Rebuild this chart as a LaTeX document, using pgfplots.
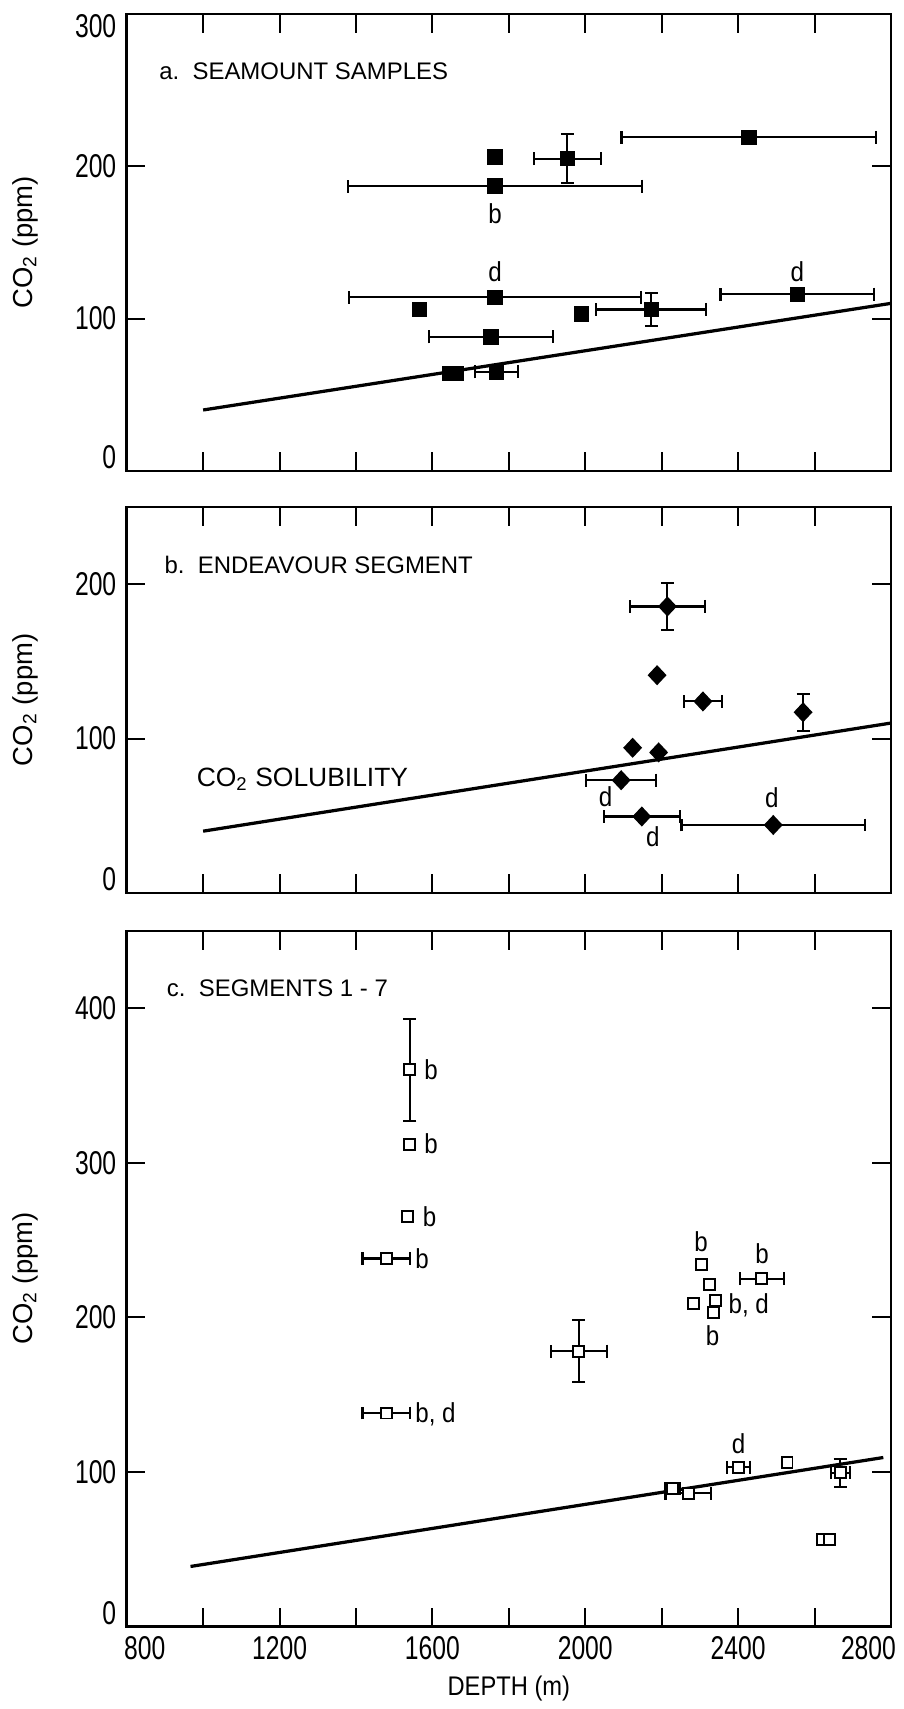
\documentclass[border=0pt]{standalone}
\usepackage{fontspec}
\setmainfont{Liberation Sans}
\newfontfamily\tickfont{Liberation Sans}[FakeStretch=0.75]
\newfontfamily\labfont{Liberation Sans}[FakeStretch=0.88]
\usepackage{pgfplots}
\pgfplotsset{compat=1.18}
\pgfplotsset{
  panel/.style={
    scale only axis, width=306.4pt,
    xmin=800, xmax=2800, ymin=0,
    axis line style={line width=1pt},
    tick align=inside,
    major tick length=7.5pt,
    every tick/.append style={black, line width=0.8pt},
    xtick={800,1000,...,2800},
    xticklabels={},
    yticklabel style={inner sep=0pt, xshift=-4pt, font=\tickfont\fontsize{13.2pt}{14pt}\selectfont},
    xticklabel style={inner sep=0pt, yshift=-4pt, anchor=north, font=\tickfont\fontsize{13.2pt}{14pt}\selectfont},
    ylabel={CO\textsubscript{2} (ppm)},
    ylabel style={at={(axis description cs:-0.133,0.5)}, anchor=center, font=\fontsize{11pt}{13pt}\selectfont},
    clip=false,
  },
  ebx/.style={error bars/.cd, x dir=both, x explicit,
    error bar style={line width=0.85pt},
    error mark options={rotate=90, mark size=2.6pt, line width=0.85pt}},
  eby/.style={error bars/.cd, y dir=both, y explicit,
    error bar style={line width=0.85pt},
    error mark options={rotate=90, mark size=2.6pt, line width=0.85pt}},
  sqa/.style={only marks, black, mark=square*, mark size=2.7pt, mark options={fill=black, draw=black, line width=0.8pt}},
  dia/.style={only marks, black, mark=diamond*, mark size=3.6pt, mark options={fill=black, draw=black, line width=0.6pt, xscale=1.25}},
  sqc/.style={only marks, black, mark=square*, mark size=2.2pt, mark options={fill=white, draw=black, line width=0.8pt}},
  ebar/.style={only marks, black, mark=*, mark size=0.01pt, forget plot},
}
\tikzset{
  anot/.style={font=\labfont\fontsize{11pt}{13pt}\selectfont, inner sep=0pt},
  ttl/.style={font=\fontsize{9.6pt}{11pt}\selectfont, inner sep=0pt, anchor=base west},
}
\begin{document}
\begin{tikzpicture}
\path (0,0) rectangle (362.4pt,-683.6pt);
% ---------------- panel a ----------------
\begin{axis}[panel, at={(50.8pt,-5.6pt)}, anchor=north west, height=183.2pt,
  ymax=300, ytick={0,100,200,300},
  yticklabels={\smash{\raisebox{0.8pt}{0}},100,200,\smash{\raisebox{-9.6pt}{300}}}]
\addplot[line width=1.3pt] coordinates {(1000,40) (2800,110)};
% x errors
\addplot[ebar, ebx] table[x index=0,y index=1,x error index=2] {
1953 205 88
2173 106 144
1764 187 384
2428 219 333
1764 114 382
2555 116 201
1753 88 163
1768 65 57
};
% y errors
\addplot[ebar, eby] table[x index=0,y index=1,y error index=2] {
1953 205 16
2173 106 11
};
% markers
\addplot[sqa] table {
1953 205
2173 106
1764 187
2428 219
1764 114
2555 116
1753 88
1768 65
1764 206
1566 106
1990 103
1645 64
1663 64
};
\node[anot] at (axis cs:1764,169) {b};
\node[anot] at (axis cs:1764,131) {d};
\node[anot] at (axis cs:2555,131) {d};
\node[ttl] at (axis cs:884,257) {a.\ \ SEAMOUNT SAMPLES};
\end{axis}
% ---------------- panel b ----------------
\begin{axis}[panel, at={(50.8pt,-203.2pt)}, anchor=north west, height=154.8pt,
  ymax=250, ytick={0,100,200},
  yticklabels={\smash{\raisebox{0.8pt}{0}},100,200}]
\addplot[line width=1.3pt] coordinates {(1000,40) (2800,110)};
\addplot[ebar, ebx] table[x index=0,y index=1,x error index=2] {
2215 185.5 98
2308 124 49
2094 73 92
2148 49.5 100
2492 44 240
};
\addplot[ebar, eby] table[x index=0,y index=1,y error index=2] {
2215 185.5 15
2570 117 12
};
\addplot[dia] table {
2215 185.5
2308 124
2094 73
2148 49.5
2492 44
2570 117
2188 141
2124 94
2192 91
};
\node[anot] at (axis cs:2053,62.5) {d};
\node[anot] at (axis cs:2177,36.4) {d};
\node[anot] at (axis cs:2488,61.4) {d};
\node[anchor=base west, inner sep=0pt, font=\fontsize{10.6pt}{12pt}\selectfont] at (axis cs:982,69) {CO\textsubscript{2} SOLUBILITY};
\node[ttl] at (axis cs:898,206.7) {b.\ \ ENDEAVOUR SEGMENT};
\end{axis}
% ---------------- panel c ----------------
\begin{axis}[panel, at={(50.8pt,-373.2pt)}, anchor=north west, height=278.8pt,
  ymax=450, ytick={0,100,200,300,400},
  yticklabels={\smash{\raisebox{0.8pt}{0}},100,200,300,400},
  xticklabels={\makebox[0pt][l]{\hspace{-1pt}800},,1200,,1600,,2000,,2400,,\makebox[0pt][r]{2800\hspace{-2pt}}},
  xlabel={DEPTH (m)},
  xlabel style={at={(axis description cs:0.5,-0.089)}, anchor=center, font=\labfont\fontsize{10.8pt}{13pt}\selectfont}]
\addplot[line width=1.3pt] coordinates {(967,38.7) (2780,109.2)};
\addplot[ebar, ebx] table[x index=0,y index=1,x error index=2] {
1983 178 73
2667 99.4 25
1479 238 62
2462 225 58
1479 138 62
2270 86 60
2228 89 20
2401 103 30
};
\addplot[ebar, eby] table[x index=0,y index=1,y error index=2] {
1983 178 20
2667 99.4 9
1541 360 33
};
\addplot[sqc] table {
1983 178
2667 99.4
1479 238
2462 225
1479 138
2270 86
2228 89
2401 103
1541 360
1541 312
1536 265
2303 234
2325 221
2283 209
2342 211
2335 203
2528 106
2622 56
2638 56
};
\node[anot, anchor=west] at (axis cs:1578,360) {b};
\node[anot, anchor=west] at (axis cs:1578,312) {b};
\node[anot, anchor=west] at (axis cs:1574,265) {b};
\node[anot, anchor=west] at (axis cs:1554,238) {b};
\node[anot, anchor=west] at (axis cs:1554,137) {b, d};
\node[anot] at (axis cs:2303,249) {b};
\node[anot, anchor=west] at (axis cs:2374,208) {b, d};
\node[anot] at (axis cs:2333,188) {b};
\node[anot] at (axis cs:2463,241) {b};
\node[anot] at (axis cs:2401,118) {d};
\node[ttl] at (axis cs:904,407.3) {c.\ \ SEGMENTS 1 - 7};
\end{axis}
\end{tikzpicture}
\end{document}
